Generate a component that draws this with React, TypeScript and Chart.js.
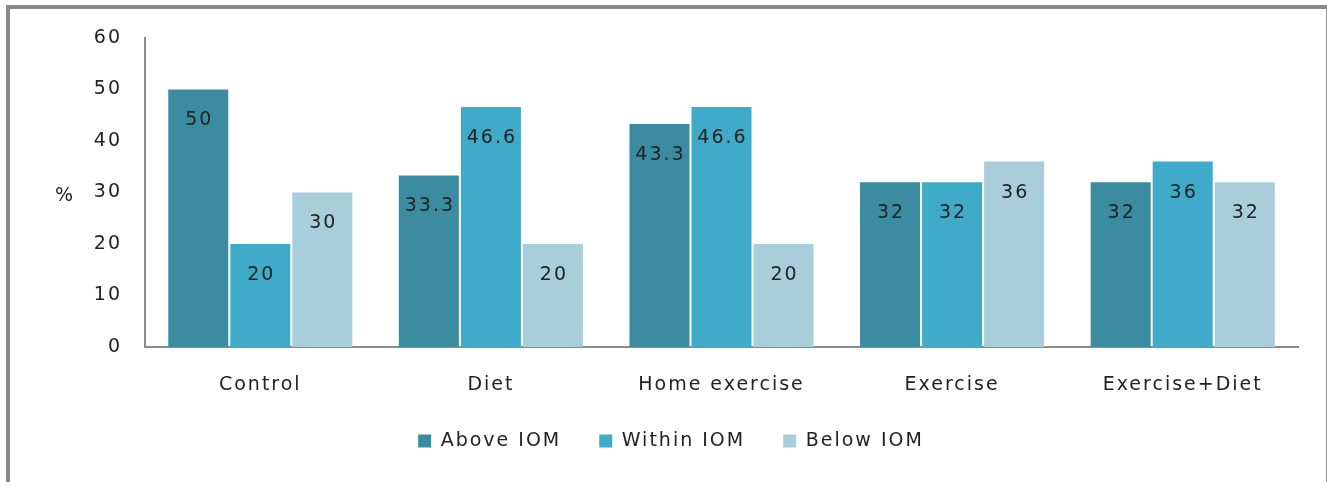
import React, { useEffect, useRef } from "react";
import { Chart, registerables } from "chart.js";

Chart.register(...registerables);

const categories = ["Control", "Diet", "Home exercise", "Exercise", "Exercise+Diet"];
const aboveIOM = [50, 33.3, 43.3, 32, 32];
const withinIOM = [20, 46.6, 46.6, 32, 36];
const belowIOM = [30, 20, 20, 36, 32];
const seriesNames = ["Above IOM", "Within IOM", "Below IOM"];
const yTicks = [0, 10, 20, 30, 40, 50, 60];

const FONT = "'DejaVu Sans', Verdana, sans-serif";
const TEXT = "#222222";
const SPACING = "2px";
const FS = 19;

const spacingPlugin = {
  id: "spacing",
  beforeUpdate(chart: any) { (chart.ctx as any).letterSpacing = SPACING; },
  beforeLayout(chart: any) { (chart.ctx as any).letterSpacing = SPACING; },
  beforeDraw(chart: any) { (chart.ctx as any).letterSpacing = SPACING; },
};

const labelPlugin = {
  id: "barLabels",
  afterDatasetsDraw(chart: any) {
    const ctx = chart.ctx;
    ctx.save();
    (ctx as any).letterSpacing = SPACING;
    ctx.font = `${FS}px ${FONT}`;
    ctx.fillStyle = TEXT;
    ctx.textAlign = "center";
    ctx.textBaseline = "middle";
    chart.data.datasets.forEach((ds: any, i: number) => {
      const meta = chart.getDatasetMeta(i);
      meta.data.forEach((bar: any, j: number) => {
        ctx.fillText(String(ds.data[j]), bar.x + 1, bar.y + 31);
      });
    });
    const ys = chart.scales.y;
    ctx.fillText("%", 65, ys.getPixelForValue(30) + 4);
    ctx.restore();
  },
};

export default function App() {
  const ref = useRef<HTMLCanvasElement>(null);
  useEffect(() => {
    if (!ref.current) return;
    const chart = new Chart(ref.current, {
      type: "bar",
      data: {
        labels: categories,
        datasets: [
          { label: seriesNames[0], data: aboveIOM, backgroundColor: "#3B8CA1" },
          { label: seriesNames[1], data: withinIOM, backgroundColor: "#40ABC8" },
          { label: seriesNames[2], data: belowIOM, backgroundColor: "#A8CEDC" },
        ],
      },
      options: {
        animation: false,
        responsive: false,
        devicePixelRatio: 1,
        layout: { padding: { left: 44, top: 38, right: 29, bottom: 21.5 } },
        datasets: { bar: { categoryPercentage: 0.807, barPercentage: 0.968 } },
        plugins: {
          legend: {
            position: "bottom",
            labels: {
              color: TEXT,
              font: { family: FONT, size: FS },
              boxWidth: 13,
              boxHeight: 13,
              padding: 38,
              generateLabels(chart: any) {
                return chart.data.datasets.map((ds: any, i: number) => ({
                  text: ds.label,
                  fillStyle: ds.backgroundColor,
                  strokeStyle: ds.backgroundColor,
                  lineWidth: 0,
                  hidden: false,
                  datasetIndex: i,
                  fontColor: TEXT,
                }));
              },
            },
          },
          tooltip: { enabled: false },
        },
        scales: {
          x: {
            grid: { display: false, drawTicks: false },
            border: { display: true, color: "#8c8c8c", width: 2 },
            ticks: { color: TEXT, font: { family: FONT, size: FS }, padding: 27, maxRotation: 0 },
            afterFit(scale: any) { scale.height = 46.5; },
          },
          y: {
            min: 0,
            max: 60,
            afterBuildTicks(scale: any) { scale.ticks = yTicks.map((v) => ({ value: v })); },
            grid: { display: false, drawTicks: false },
            border: { display: true, color: "#8c8c8c", width: 2 },
            ticks: { color: TEXT, font: { family: FONT, size: FS }, padding: 23 },
            afterFit(scale: any) { scale.width = 101; },
          },
        },
      },
      plugins: [spacingPlugin, labelPlugin],
    } as any);
    return () => chart.destroy();
  }, []);

  return (
    <div style={{ position: "absolute", left: 0, top: 0, width: 1327, height: 482, background: "#fff", overflow: "hidden" }}>
      <div
        style={{
          position: "absolute",
          left: 6,
          top: 5,
          width: 1316,
          height: 500,
          borderTop: "4px solid #8a8a8a",
          borderLeft: "4px solid #8a8a8a",
          borderRight: "2px solid #9a9a9a",
        }}
      />
      <canvas ref={ref} width={1327} height={482} style={{ position: "absolute", left: 0, top: 0 }} />
    </div>
  );
}
